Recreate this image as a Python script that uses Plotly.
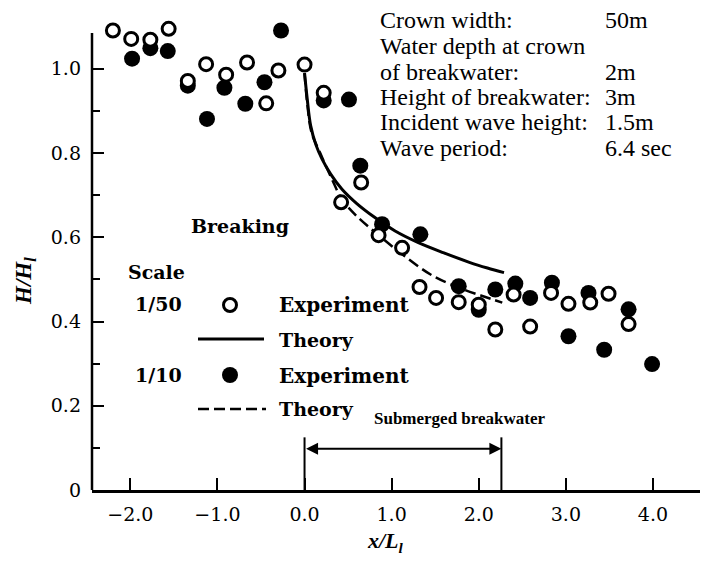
import plotly.graph_objects as go

# ---------------- data ----------------
exp50_x = [-2.20, -1.99, -1.77, -1.56, -1.34, -1.13, -0.90, -0.66, -0.44, -0.30, 0.00, 0.22,
           0.42, 0.65, 0.85, 1.12, 1.32, 1.51, 1.77, 2.00, 2.19, 2.40, 2.59, 2.83, 3.03, 3.28, 3.49, 3.72]
exp50_y = [1.091, 1.071, 1.069, 1.095, 0.971, 1.011, 0.986, 1.015, 0.918, 0.996, 1.010, 0.943,
           0.683, 0.730, 0.605, 0.575, 0.482, 0.456, 0.446, 0.440, 0.381, 0.464, 0.388, 0.468, 0.442, 0.445, 0.466, 0.394]

exp10_x = [-1.98, -1.77, -1.57, -1.34, -1.12, -0.92, -0.68, -0.46, -0.27, 0.22, 0.51, 0.64, 0.89,
           1.33, 1.77, 2.00, 2.19, 2.42, 2.59, 2.84, 3.03, 3.26, 3.44, 3.72, 3.99]
exp10_y = [1.024, 1.049, 1.042, 0.960, 0.881, 0.955, 0.917, 0.968, 1.091, 0.925, 0.927, 0.770, 0.631,
           0.607, 0.484, 0.428, 0.476, 0.490, 0.456, 0.492, 0.365, 0.468, 0.333, 0.429, 0.299]

theory50_x = [0.0, 0.03, 0.07, 0.13, 0.2, 0.3, 0.43, 0.6, 0.8, 1.04, 1.3, 1.6, 1.9, 2.1, 2.29]
theory50_y = [0.99, 0.93, 0.865, 0.82, 0.786, 0.75, 0.714, 0.68, 0.648, 0.615, 0.588, 0.563, 0.54, 0.527, 0.516]

theory10_x = [0.0, 0.03, 0.08, 0.18, 0.31, 0.43, 0.6, 0.85, 1.12, 1.46, 1.8, 2.05, 2.27]
theory10_y = [0.99, 0.92, 0.849, 0.80, 0.74, 0.69, 0.65, 0.605, 0.56, 0.51, 0.478, 0.46, 0.445]

breakwater_x = [0.0, 2.26]
breakwater_h = 0.125
breakwater_arrow_y = 0.098

x_tickvals = [-2, -1, 0, 1, 2, 3, 4]
x_ticktext = ["\u22122.0", "\u22121.0", "0.0", "1.0", "2.0", "3.0", "4.0"]
y_tickvals = [0, 0.2, 0.4, 0.6, 0.8, 1.0]
y_ticktext = ["0", "0.2", "0.4", "0.6", "0.8", "1.0"]
y_minor = [0.1, 0.3, 0.5, 0.7, 0.9]
y_axis_top = 1.085

header_labels = ["Crown width:", "Water depth at crown", "of breakwater:", "Height of breakwater:",
                 "Incident wave height:", "Wave period:"]
header_values = ["50m", "", "2m", "3m", "1.5m", "6.4 sec"]

# ---------------- geometry (screen pixels) ----------------
W, H = 723, 564
BODY = 8                      # default page margin around the plot div
L, R, T, B = 92, 700, 15, 490  # plot area in screen pixels
PX_PER_Y = 421.2
XR = [-2.44, 4.54]
YR = [0.0, (B - T) / PX_PER_Y]


def px(xp):
    return XR[0] + (xp - L) / (R - L) * (XR[1] - XR[0])


def py(yp):
    return YR[0] + (B - yp) / (B - T) * (YR[1] - YR[0])


def ppx(xp):
    return (xp - L) / (R - L)


def ppy(yp):
    return (B - yp) / (B - T)


TXT = "DejaVu Serif"
HDR = "Liberation Serif"

fig = go.Figure()

fig.add_trace(go.Scatter(x=theory50_x, y=theory50_y, mode="lines",
                         line=dict(color="black", width=3, shape="spline"),
                         hoverinfo="skip", showlegend=False))
fig.add_trace(go.Scatter(x=theory10_x, y=theory10_y, mode="lines",
                         line=dict(color="black", width=2.5, dash="11px,5px", shape="spline"),
                         hoverinfo="skip", showlegend=False))
fig.add_trace(go.Scatter(x=exp10_x, y=exp10_y, mode="markers",
                         marker=dict(symbol="circle", size=16, color="black", line=dict(width=0)),
                         cliponaxis=False, showlegend=False))
fig.add_trace(go.Scatter(x=exp50_x, y=exp50_y, mode="markers",
                         marker=dict(symbol="circle", size=13, color="white", line=dict(color="black", width=3)),
                         cliponaxis=False, showlegend=False))

# legend sample markers (key)
fig.add_trace(go.Scatter(x=[px(230)], y=[py(305)], mode="markers",
                         marker=dict(symbol="circle", size=13, color="white", line=dict(color="black", width=3)),
                         showlegend=False, hoverinfo="skip"))
fig.add_trace(go.Scatter(x=[px(230)], y=[py(375)], mode="markers",
                         marker=dict(symbol="circle", size=16, color="black"),
                         showlegend=False, hoverinfo="skip"))

shapes = []
# y axis line (only up to its drawn top)
shapes.append(dict(type="line", xref="paper", yref="y", x0=0, x1=0, y0=0, y1=y_axis_top,
                   line=dict(color="black", width=2.5)))
# legend line samples
shapes.append(dict(type="line", xref="x", yref="y", x0=px(198), x1=px(264), y0=py(339), y1=py(339),
                   line=dict(color="black", width=3)))
shapes.append(dict(type="line", xref="x", yref="y", x0=px(198), x1=px(266), y0=py(409), y1=py(409),
                   line=dict(color="black", width=2.5, dash="11px,5px")))
# breakwater markers
for bx in breakwater_x:
    shapes.append(dict(type="line", xref="x", yref="y", x0=bx, x1=bx, y0=0, y1=breakwater_h,
                       line=dict(color="black", width=2)))

ann = []
ann.append(dict(x=breakwater_x[1], y=breakwater_arrow_y, ax=breakwater_x[0], ay=breakwater_arrow_y,
                xref="x", yref="y", axref="x", ayref="y", text="", showarrow=True,
                arrowhead=2, arrowside="end+start", arrowsize=1.2, arrowwidth=2, arrowcolor="black"))


def t(xp, yp, text, anchor="left", size=19, family=TXT, bold=True):
    ann.append(dict(x=ppx(xp), y=ppy(yp), xref="paper", yref="paper",
                    text=("<b>%s</b>" % text) if bold else text,
                    showarrow=False, font=dict(family=family, size=size, color="black"),
                    xanchor=anchor, yanchor="middle"))


t(460, 418, "Submerged breakwater", anchor="center", size=17, family=HDR)

# legend texts
t(240, 226, "Breaking", anchor="center")
t(126, 272, "Scale")
t(184, 304, "1/50", anchor="right")
t(277, 305, "Experiment", size=20)
t(277, 340, "Theory")
t(184, 375, "1/10", anchor="right")
t(277, 376, "Experiment", size=20)
t(277, 409, "Theory")

# header block
line_y = [20, 46, 72, 97, 122, 148]
for lab, val, yy in zip(header_labels, header_values, line_y):
    t(378, yy, lab, size=24, family=HDR, bold=False)
    if val:
        t(603, yy, val, size=24, family=HDR, bold=False)

# axis titles
ann.append(dict(x=ppx(25), y=ppy(281), xref="paper", yref="paper",
                text="<b><i>H/H<sub>l</sub></i></b>", textangle=-90, showarrow=False,
                font=dict(family=HDR, size=23, color="black"), xanchor="center", yanchor="middle"))
ann.append(dict(x=ppx(385), y=ppy(542), xref="paper", yref="paper",
                text="<b><i>x/L<sub>l</sub></i></b>", showarrow=False,
                font=dict(family=HDR, size=22, color="black"), xanchor="center", yanchor="middle"))

fig.update_layout(
    width=W - 2 * BODY, height=H - 2 * BODY,
    margin=dict(l=L - BODY, r=W - R - BODY, t=T - BODY, b=H - B - BODY, pad=0),
    paper_bgcolor="white", plot_bgcolor="white",
    shapes=shapes, annotations=ann, showlegend=False,
    xaxis=dict(range=XR, showgrid=False, zeroline=False, showline=True, linecolor="black", linewidth=2.5,
               ticks="inside", ticklen=12, tickwidth=2, tickcolor="black",
               tickvals=x_tickvals, ticktext=x_ticktext, ticklabelstandoff=5,
               tickfont=dict(family=TXT, size=19, color="black"), fixedrange=True),
    yaxis=dict(range=YR, showgrid=False, zeroline=False, showline=False,
               ticks="inside", ticklen=12, tickwidth=2, tickcolor="black",
               tickvals=y_tickvals, ticktext=y_ticktext, ticklabelstandoff=10,
               tickfont=dict(family=TXT, size=19, color="black"),
               minor=dict(tickvals=y_minor, ticks="inside", ticklen=8, tickwidth=2,
                          tickcolor="black"), fixedrange=True),
)

fig.write_html("out.html")
